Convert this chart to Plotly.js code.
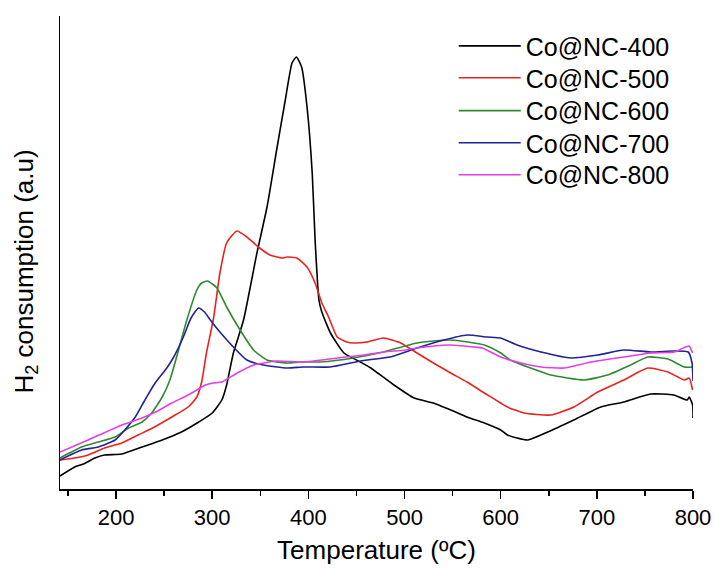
<!DOCTYPE html>
<html>
<head>
<meta charset="utf-8">
<script src="https://cdn.plot.ly/plotly-3.0.1.min.js"></script>
<style>
html,body{margin:0;padding:0;background:#fff;}
#chart{width:714px;height:570px;}
</style>
</head>
<body>
<div id="chart"></div>
<script>
// Series names
const seriesNames = ["Co@NC-400", "Co@NC-500", "Co@NC-600", "Co@NC-700", "Co@NC-800"];

// Co@NC-400 (black)
const t400 = [141.7,157,166,178,188,206,227,248,268,286,300,310,315,322,332.6,346.5,357,367,376,383,387.5,393,398.6,404,407,411,414,423,437,454,465,472,489,510,530,548,565,583,600,607,628,649,676,704,728,756,780,794,796,799.6,800];
const h400 = [13,22,25,31,34,35,42,49,57,67,76,89,104,136,169,236,282,339,389,426,432,422,382,316,249,189,177,156,136,127,121,116,104,91,86,79,72,66,59,54,49,57,69,82,87,95,94,89,92,84,71];

// Co@NC-500 (red)
const t500 = [141.7,157,171,188,206,223,240,258,275,284,289,294,301.4,308,315,325.6,336,348,360,372.6,378,388,398.6,407,414,421,430,440,447,461,478,496,513,530,548,565,583,600,607,624,652,676,701,728,753,774,791,796,799.6];
const h500 = [29,31,34,41,46,54,62,72,82,92,107,136,171,216,246,258,252,242,234,231,232,231,222,206,186,172,152,147,146,147,151,146,136,126,116,107,96,86,82,76,74,82,97,109,121,117,109,111,99];

// Co@NC-600 (green)
const t600 = [141.7,164,181.5,199,213,227,237,248,256,265,273.6,284,289,295,300,305,315,329,343,357,378,392,412,447,478,513,548,583,600,610,631,652,687,711,735,753,774,791,799.6];
const h600 = [31,42,47,52,61,67,76,92,109,139,169,199,206,208,205,201,182,159,139,129,126,127,127,131,137,146,149,144,136,129,121,114,109,114,124,132,130,122,122];

// Co@NC-700 (blue)
const t700 = [141.7,164,181.5,199,209,220,230,240.6,252.8,260,270,278,285.8,292,298,308,322,336,353,378,395,423,449,461,485,513,541,565,586,600,617,642,673,701,728,756,780,795,799,800];
const h700 = [29,39,42,49,59,72,89,106,121,132,152,171,181,177,169,157,142,129,124,121,122,122,127,129,132,141,149,154,152,151,144,137,131,134,139,137,138,137,126,108];

// Co@NC-800 (magenta)
const t800 = [141.7,171,206,227,241,258,275,293,301,310,326,343,367,395,430,458,479,501,513,546,572,581,600,617,642,666,694,728,756,781,792,796,799.6];
const h800 = [37,49,64,71,77,86,94,104,106,107,116,124,128,127,131,134,137,139,141,144,142,141,132,127,122,121,127,132,136,137,142,143,136];

const xTickVals = [200,300,400,500,600,700,800];

const xs = [t400, t500, t600, t700, t800];
const ys = [h400, h500, h600, h700, h800];
const colors = ["#000000", "#e8231d", "#2f8a2f", "#22229a", "#e43fe4"];
const legendIds = ["legend", "legend2", "legend3", "legend4", "legend5"];
const legendTops = [0.985, 0.9175, 0.848, 0.78, 0.7125];

const traces = seriesNames.map((name, i) => ({
  x: xs[i], y: ys[i], name: name, type: "scatter", mode: "lines",
  legend: legendIds[i],
  line: {color: colors[i], width: 1.6, shape: "spline", smoothing: 0.5}
}));

const font = "Liberation Sans, Arial, sans-serif";

const layout = {
  width: 714, height: 570,
  margin: {l: 60, r: 21, t: 16, b: 81, autoexpand: false},
  paper_bgcolor: "#fff", plot_bgcolor: "#fff",
  showlegend: true,
  xaxis: {
    range: [141.7, 800], tickvals: xTickVals,
    showline: true, linecolor: "#000", linewidth: 1.5,
    ticks: "outside", ticklen: 8, tickwidth: 1.5, tickcolor: "#000",
    minor: {dtick: 50, tick0: 0, ticks: "outside", ticklen: 5, tickwidth: 1.5, tickcolor: "#000"},
    showgrid: false, zeroline: false,
    tickfont: {family: font, size: 22, color: "#000"},
    title: {text: "Temperature (ºC)", font: {family: font, size: 26, color: "#000"}, standoff: 12}
  },
  yaxis: {
    range: [0, 473],
    showline: true, linecolor: "#000", linewidth: 1.5,
    ticks: "", showticklabels: false, showgrid: false, zeroline: false
  },
  annotations: [{
    text: "H<sub>2</sub> consumption (a.u)",
    xref: "paper", yref: "paper", x: -0.055, y: 0.46,
    xanchor: "center", yanchor: "middle", textangle: -90, showarrow: false,
    font: {family: font, size: 26, color: "#000"}
  }]
};

legendIds.forEach((id, i) => {
  layout[id] = {
    xref: "paper", yref: "paper",
    x: 0.622, y: legendTops[i], xanchor: "left", yanchor: "top",
    font: {family: font, size: 25, color: "#000"},
    bgcolor: "rgba(0,0,0,0)", itemwidth: 62
  };
});

Plotly.newPlot("chart", traces, layout, {displayModeBar: false, staticPlot: true});
</script>
</body>
</html>
